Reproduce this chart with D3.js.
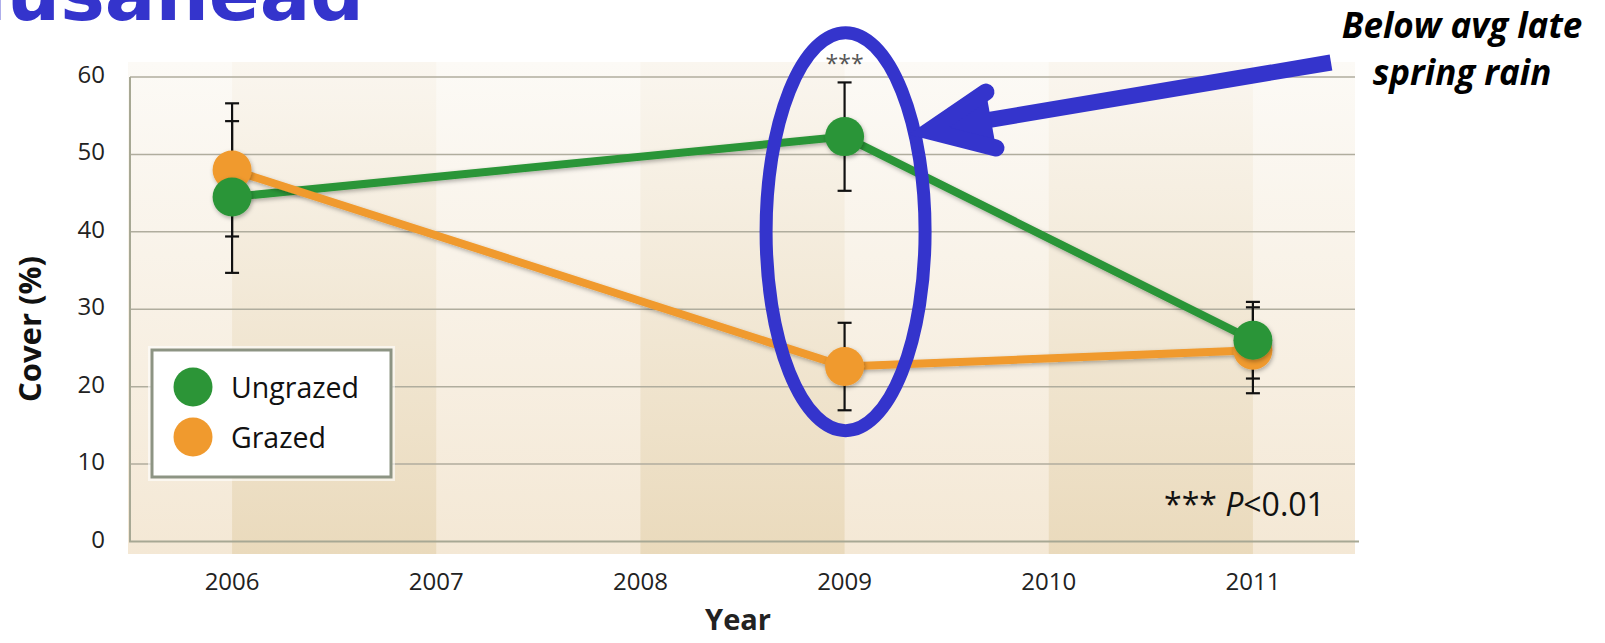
<!DOCTYPE html>
<html lang="en">
  <head>
    <meta charset="UTF-8" />
    <title>Cover by year</title>
    <script src="https://d3js.org/d3.v7.min.js"></script>
    <style>
      body {
        margin: 0;
        background: #ffffff;
        font-family: "Open Sans", Arial, sans-serif;
      }
    </style>
  </head>
  <body>
    <script>
      // Data
      const years = [2006, 2009, 2011];
      const ungrazed = [44.5, 52.3, 26.0];
      const ungrazedErr = [9.8, 7.0, 4.95];
      const grazed = [48.0, 22.6, 24.7];
      const grazedErr = [8.6, 5.65, 5.55];
      const yearTicks = [2006, 2007, 2008, 2009, 2010, 2011];
      const coverTicks = [0, 10, 20, 30, 40, 50, 60];
      const shadedBands = [[2006, 2007], [2008, 2009], [2010, 2011]];

      const width = 1605;
      const height = 643;
      const green = "#2c9537";
      const orange = "#f09a2e";
      const blue = "#3434cc";

      const svg = d3
        .select("body")
        .append("svg")
        .attr("width", width)
        .attr("height", height);

      const defs = svg.append("defs");

      // vertical gradients for the plot background
      function addGradient(id, top, bottom) {
        const g = defs
          .append("linearGradient")
          .attr("id", id)
          .attr("x1", 0)
          .attr("y1", 0)
          .attr("x2", 0)
          .attr("y2", 1);
        g.append("stop").attr("offset", "0%").attr("stop-color", top);
        g.append("stop").attr("offset", "100%").attr("stop-color", bottom);
      }
      addGradient("bgLight", "#fcfaf6", "#f4e8d5");
      addGradient("bgDark", "#faf6ef", "#eadabc");

      const shadow = defs
        .append("filter")
        .attr("id", "shadow")
        .attr("x", "-50%")
        .attr("y", "-50%")
        .attr("width", "200%")
        .attr("height", "200%");
      shadow
        .append("feDropShadow")
        .attr("dx", 1)
        .attr("dy", 2)
        .attr("stdDeviation", 2)
        .attr("flood-opacity", 0.3);

      const x = d3.scaleLinear().domain([2005.5, 2011.5]).range([130, 1355]);
      const y = d3.scaleLinear().domain([0, 60]).range([541.5, 77]);

      // background
      svg
        .append("rect")
        .attr("x", 128)
        .attr("y", 62)
        .attr("width", x(2011.5) - 128)
        .attr("height", 492)
        .attr("fill", "url(#bgLight)");

      svg
        .append("g")
        .selectAll("rect")
        .data(shadedBands)
        .join("rect")
        .attr("x", (d) => x(d[0]))
        .attr("y", 62)
        .attr("width", (d) => x(d[1]) - x(d[0]))
        .attr("height", 492)
        .attr("fill", "url(#bgDark)");

      // gridlines
      svg
        .append("g")
        .selectAll("line")
        .data(coverTicks.filter((d) => d > 0))
        .join("line")
        .attr("x1", x(2005.5))
        .attr("x2", x(2011.5))
        .attr("y1", (d) => y(d))
        .attr("y2", (d) => y(d))
        .attr("stroke", "#b0ad9e")
        .attr("stroke-width", 1.5);

      // axes lines
      svg
        .append("line")
        .attr("x1", x(2005.5))
        .attr("x2", x(2005.5))
        .attr("y1", y(60))
        .attr("y2", y(0))
        .attr("stroke", "#a7a894")
        .attr("stroke-width", 2);
      svg
        .append("line")
        .attr("x1", x(2005.5) - 1)
        .attr("x2", x(2011.5) + 4)
        .attr("y1", y(0))
        .attr("y2", y(0))
        .attr("stroke", "#a7a894")
        .attr("stroke-width", 2);

      // tick labels
      svg
        .append("g")
        .selectAll("text")
        .data(coverTicks)
        .join("text")
        .attr("x", 105)
        .attr("y", (d) => y(d) + 6)
        .attr("text-anchor", "end")
        .attr("font-size", 24)
        .attr("fill", "#222")
        .text((d) => d);

      svg
        .append("g")
        .selectAll("text")
        .data(yearTicks)
        .join("text")
        .attr("x", (d) => x(d))
        .attr("y", 590)
        .attr("text-anchor", "middle")
        .attr("font-size", 24)
        .attr("fill", "#222")
        .text((d) => d);

      // axis titles
      svg
        .append("text")
        .attr("x", 738)
        .attr("y", 630)
        .attr("text-anchor", "middle")
        .attr("font-size", 29)
        .attr("font-weight", "bold")
        .attr("fill", "#222")
        .text("Year");

      svg
        .append("text")
        .attr("transform", "translate(41,329) rotate(-90)")
        .attr("text-anchor", "middle")
        .attr("font-size", 31)
        .attr("font-weight", "bold")
        .attr("fill", "#111")
        .text("Cover (%)");

      // legend
      const legend = svg.append("g");
      legend
        .append("rect")
        .attr("x", 148)
        .attr("y", 346)
        .attr("width", 247)
        .attr("height", 135)
        .attr("fill", "#ffffff")
        .attr("opacity", 0.6);
      legend
        .append("rect")
        .attr("x", 152)
        .attr("y", 350)
        .attr("width", 239)
        .attr("height", 127)
        .attr("fill", "#ffffff")
        .attr("stroke", "#8d9483")
        .attr("stroke-width", 3);
      const legendItems = [
        { name: "Ungrazed", color: green },
        { name: "Grazed", color: orange },
      ];
      legend
        .selectAll("circle")
        .data(legendItems)
        .join("circle")
        .attr("cx", 193)
        .attr("cy", (d, i) => 387 + i * 50)
        .attr("r", 19.5)
        .attr("fill", (d) => d.color);
      legend
        .selectAll("text")
        .data(legendItems)
        .join("text")
        .attr("x", 231)
        .attr("y", (d, i) => 398 + i * 50)
        .attr("font-size", 28.5)
        .attr("fill", "#111")
        .text((d) => d.name);

      // series
      const series = [
        { name: "Ungrazed", values: ungrazed, err: ungrazedErr, color: green },
        { name: "Grazed", values: grazed, err: grazedErr, color: orange },
      ];

      // error bars
      const errG = svg.append("g").attr("stroke", "#111").attr("stroke-width", 2.2);
      series.forEach((s) => {
        years.forEach((yr, i) => {
          const lo = y(s.values[i] - s.err[i]);
          const hi = y(s.values[i] + s.err[i]);
          errG
            .append("line")
            .attr("x1", x(yr))
            .attr("x2", x(yr))
            .attr("y1", lo)
            .attr("y2", hi);
          [lo, hi].forEach((cy) => {
            errG
              .append("line")
              .attr("x1", x(yr) - 7)
              .attr("x2", x(yr) + 7)
              .attr("y1", cy)
              .attr("y2", cy);
          });
        });
      });

      const line = d3
        .line()
        .x((d) => x(d[0]))
        .y((d) => y(d[1]));

      series.forEach((s) => {
        svg
          .append("path")
          .datum(years.map((yr, i) => [yr, s.values[i]]))
          .attr("d", line)
          .attr("fill", "none")
          .attr("stroke", s.color)
          .attr("stroke-width", 8)
          .attr("filter", "url(#shadow)");
      });

      // markers: grazed first so ungrazed sits on top
      [series[1], series[0]].forEach((s) => {
        svg
          .append("g")
          .selectAll("circle")
          .data(years.map((yr, i) => [yr, s.values[i]]))
          .join("circle")
          .attr("cx", (d) => x(d[0]))
          .attr("cy", (d) => y(d[1]))
          .attr("r", 19.5)
          .attr("fill", s.color)
          .attr("filter", "url(#shadow)");
      });

      // significance marks
      svg
        .append("text")
        .attr("x", x(2009))
        .attr("y", 72)
        .attr("text-anchor", "middle")
        .attr("font-size", 23)
        .attr("fill", "#555")
        .text("***");

      const pText = svg
        .append("text")
        .attr("x", 1164)
        .attr("y", 516)
        .attr("font-size", 32)
        .attr("fill", "#111");
      pText.append("tspan").text("*** ");
      pText.append("tspan").attr("font-style", "italic").text("P");
      pText.append("tspan").text("<0.01");

      // annotation: ellipse and arrow
      svg
        .append("ellipse")
        .attr("cx", x(2009) + 1)
        .attr("cy", 231.7)
        .attr("rx", 79.5)
        .attr("ry", 199)
        .attr("fill", "none")
        .attr("stroke", blue)
        .attr("stroke-width", 13);

      svg
        .append("line")
        .attr("x1", 1331)
        .attr("y1", 62.5)
        .attr("x2", 935)
        .attr("y2", 129)
        .attr("stroke", blue)
        .attr("stroke-width", 16);
      svg
        .append("path")
        .attr("d", "M986,92 L929,131 L996,148")
        .attr("fill", blue)
        .attr("stroke", blue)
        .attr("stroke-width", 17)
        .attr("stroke-linecap", "round")
        .attr("stroke-linejoin", "miter");

      const note = svg
        .append("text")
        .attr("text-anchor", "middle")
        .attr("font-size", 35)
        .attr("font-weight", "bold")
        .attr("font-style", "italic")
        .attr("fill", "#000");
      note.append("tspan").attr("x", 1462).attr("y", 38).text("Below avg late");
      note.append("tspan").attr("x", 1462).attr("y", 85).text("spring rain");

      // cut-off slide title
      svg
        .append("text")
        .attr("x", 364)
        .attr("y", 20)
        .attr("text-anchor", "end")
        .attr("font-family", "DejaVu Sans, sans-serif")
        .attr("font-size", 75)
        .attr("font-weight", "bold")
        .attr("fill", blue)
        .text("Medusahead");
    </script>
  </body>
</html>
